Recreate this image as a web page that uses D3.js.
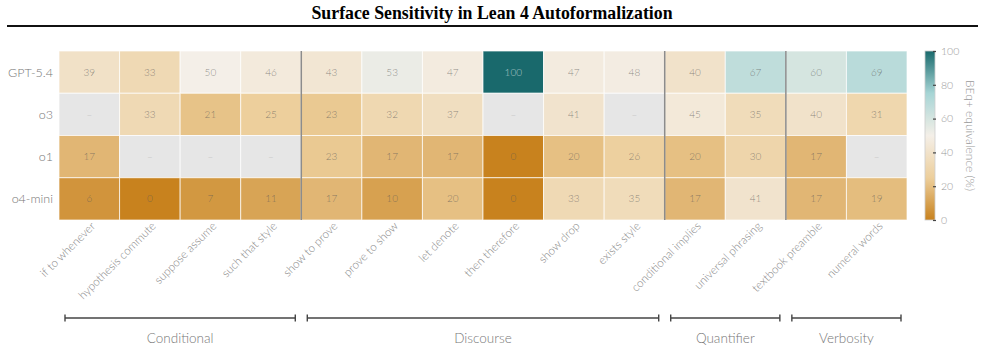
<!DOCTYPE html>
<html>
<head>
<meta charset="utf-8">
<script src="https://cdn.jsdelivr.net/npm/d3@7"></script>
<style>
  body { margin: 0; background: #fff; }
  text { font-family: Lato, "Open Sans", sans-serif; }
</style>
</head>
<body>
<div id="chart"></div>
<script>
var svgWidth = 985;
var svgHeight = 364;

var models = ["GPT-5.4", "o3", "o1", "o4-mini"];
var perturbations = ["if to whenever", "hypothesis commute", "suppose assume", "such that style",
  "show to prove", "prove to show", "let denote", "then therefore", "show drop", "exists style",
  "conditional implies", "universal phrasing", "textbook preamble", "numeral words"];

// null = not run
var gpt54 = [39, 33, 50, 46, 43, 53, 47, 100, 47, 48, 40, 67, 60, 69];
var o3 = [null, 33, 21, 25, 23, 32, 37, null, 41, null, 45, 35, 40, 31];
var o1 = [17, null, null, null, 23, 17, 17, 0, 20, 26, 20, 30, 17, null];
var o4mini = [6, 0, 7, 11, 17, 10, 20, 0, 33, 35, 17, 41, 17, 19];

var groups = ["Conditional", "Discourse", "Quantifier", "Verbosity"];
var groupStart = [0, 4, 10, 12];
var groupEnd = [3, 9, 11, 13];

var cbTicks = [0, 20, 40, 60, 80, 100];

var margin = { top: 51, left: 59 };
var chartWidth = 848;
var chartHeight = 169;

var svg = d3.select("#chart").append("svg")
  .attr("width", svgWidth)
  .attr("height", svgHeight);

// title + rule
svg.append("text")
  .attr("x", 492)
  .attr("y", 19)
  .attr("text-anchor", "middle")
  .style("font-family", "'Liberation Serif', 'Times New Roman', serif")
  .style("font-weight", "bold")
  .style("font-size", "17.8px")
  .attr("fill", "#000")
  .text("Surface Sensitivity in Lean 4 Autoformalization");

svg.append("line")
  .attr("x1", 7).attr("x2", 978)
  .attr("y1", 26).attr("y2", 26)
  .attr("stroke", "#111")
  .attr("stroke-width", 2);

var xScale = d3.scaleBand().domain(perturbations).range([0, chartWidth]);
var yScale = d3.scaleBand().domain(models).range([0, chartHeight]);

var color = d3.scaleLinear()
  .domain([0, 25, 50, 75, 100])
  .range(["#c8821e", "#edcf9c", "#f4efe8", "#a6d5d5", "#19696c"]);

var rows = [gpt54, o3, o1, o4mini];
var cells = [];
rows.forEach(function(vals, i) {
  vals.forEach(function(v, j) {
    cells.push({ model: models[i], pert: perturbations[j], value: v });
  });
});

var chartGroup = svg.append("g")
  .attr("transform", `translate(${margin.left}, ${margin.top})`);

chartGroup.selectAll("rect.cell")
  .data(cells)
  .enter()
  .append("rect")
  .attr("class", "cell")
  .attr("x", d => xScale(d.pert))
  .attr("y", d => yScale(d.model))
  .attr("width", xScale.bandwidth())
  .attr("height", yScale.bandwidth())
  .attr("fill", d => d.value === null ? "#e6e6e6" : color(d.value))
  .attr("stroke", "#fff")
  .attr("stroke-opacity", 0.7)
  .attr("stroke-width", 1);

function isDark(v) {
  return v !== null && d3.hsl(color(v)).l < 0.35;
}

chartGroup.selectAll("text.val")
  .data(cells)
  .enter()
  .append("text")
  .attr("class", "val")
  .attr("x", d => xScale(d.pert) + xScale.bandwidth() / 2)
  .attr("y", d => yScale(d.model) + yScale.bandwidth() / 2)
  .attr("dy", "0.35em")
  .attr("text-anchor", "middle")
  .style("font-size", "10px")
  .style("font-weight", 300)
  .attr("fill", d => d.value === null ? "#bbb" : isDark(d.value) ? "#fff" : "#555")
  .attr("fill-opacity", d => d.value === null ? 1 : isDark(d.value) ? 0.6 : 0.65)
  .text(d => d.value === null ? "–" : d.value);

// group separators
groupStart.slice(1).forEach(function(s) {
  chartGroup.append("line")
    .attr("x1", xScale(perturbations[s])).attr("x2", xScale(perturbations[s]))
    .attr("y1", 0).attr("y2", chartHeight)
    .attr("stroke", "#8c8c8c")
    .attr("stroke-width", 1.5);
});

// y labels
chartGroup.selectAll("text.ylab")
  .data(models)
  .enter()
  .append("text")
  .attr("class", "ylab")
  .attr("x", -6)
  .attr("y", d => yScale(d) + yScale.bandwidth() / 2)
  .attr("dy", "0.35em")
  .attr("text-anchor", "end")
  .style("font-size", "12.5px")
  .style("font-weight", 300)
  .attr("fill", "#777")
  .text(d => d);

// x labels
chartGroup.selectAll("text.xlab")
  .data(perturbations)
  .enter()
  .append("text")
  .attr("class", "xlab")
  .attr("transform", d => `translate(${xScale(d) + xScale.bandwidth() / 2 + 1}, ${chartHeight + 1}) rotate(-45)`)
  .attr("text-anchor", "end")
  .attr("dy", "0.7em")
  .style("font-size", "11.6px")
  .style("font-weight", 300)
  .attr("fill", "#888")
  .text(d => d);

// group brackets
var bracketY = 267;
groups.forEach(function(g, i) {
  var x1 = xScale(perturbations[groupStart[i]]) + 6;
  var x2 = xScale(perturbations[groupEnd[i]]) + xScale.bandwidth() - 6;
  var b = chartGroup.append("g").attr("stroke", "#444").attr("stroke-width", 1.4);
  b.append("line").attr("x1", x1).attr("x2", x2).attr("y1", bracketY).attr("y2", bracketY);
  b.append("line").attr("x1", x1).attr("x2", x1).attr("y1", bracketY - 3.5).attr("y2", bracketY + 3.5);
  b.append("line").attr("x1", x2).attr("x2", x2).attr("y1", bracketY - 3.5).attr("y2", bracketY + 3.5);
  chartGroup.append("text")
    .attr("x", (x1 + x2) / 2)
    .attr("y", bracketY + 20)
    .attr("dy", "0.35em")
    .attr("text-anchor", "middle")
    .style("font-size", "13.5px")
    .style("font-weight", 300)
    .attr("fill", "#777")
    .text(g);
});

// colorbar
var cbX = 925, cbW = 10;
var cbScale = d3.scaleLinear().domain([0, 100]).range([margin.top + chartHeight, margin.top]);

var defs = svg.append("defs");
var grad = defs.append("linearGradient")
  .attr("id", "cbgrad")
  .attr("x1", "0").attr("x2", "0").attr("y1", "1").attr("y2", "0");
d3.range(0, 101, 5).forEach(function(v) {
  grad.append("stop").attr("offset", v + "%").attr("stop-color", color(v));
});

svg.append("rect")
  .attr("x", cbX).attr("y", margin.top)
  .attr("width", cbW).attr("height", chartHeight)
  .attr("fill", "url(#cbgrad)")
  .attr("stroke", "#ccc")
  .attr("stroke-width", 0.8);

var cbAxis = d3.axisRight(cbScale).tickValues(cbTicks).tickSize(3).tickPadding(5);
var cbG = svg.append("g")
  .attr("transform", `translate(${cbX + cbW - 2}, 0)`)
  .call(cbAxis);
cbG.select(".domain").remove();
cbG.selectAll(".tick line").attr("stroke", "#444").attr("stroke-width", 1.2);
cbG.selectAll(".tick text")
  .style("font-family", "Lato, 'Open Sans', sans-serif")
  .style("font-size", "10.5px")
  .style("font-weight", 300)
  .attr("fill", "#999");

svg.append("text")
  .attr("transform", `translate(970, ${margin.top + chartHeight / 2}) rotate(90)`)
  .attr("text-anchor", "middle")
  .attr("dy", "0.35em")
  .style("font-size", "12px")
  .style("font-weight", 300)
  .attr("fill", "#999")
  .text("BEq+ equivalence (%)");
</script>
</body>
</html>
